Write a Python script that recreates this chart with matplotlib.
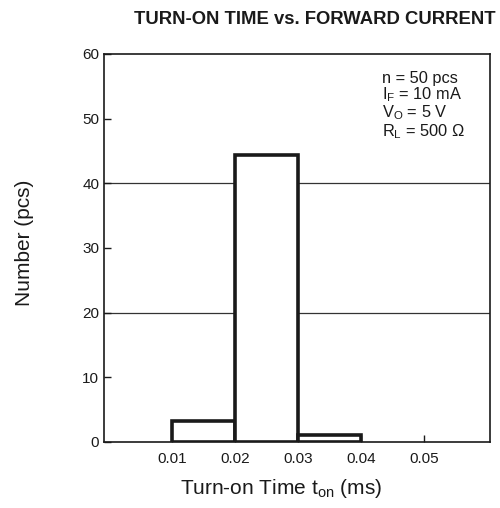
import matplotlib
matplotlib.use("Agg")
import matplotlib.pyplot as plt

plt.rcParams['font.family'] = ['Liberation Sans', 'DejaVu Sans']
plt.rcParams['mathtext.fontset'] = 'custom'
plt.rcParams['mathtext.rm'] = 'Liberation Sans'

# histogram data
bin_left = [0.01, 0.02, 0.03]
counts = [3.2, 44.3, 1.1]
bin_width = 0.01
grid_levels = [20, 40]
xticks = [0.01, 0.02, 0.03, 0.04, 0.05]
xtick_labels = ["0.01", "0.02", "0.03", "0.04", "0.05"]
yticks = [0, 10, 20, 30, 40, 50, 60]
notes = ["n = 50 pcs",
         r"I$\mathregular{_F}$ = 10 mA",
         r"V$\mathregular{_O}$ = 5 V",
         r"R$\mathregular{_L}$ = 500 Ω"]

fig = plt.figure(figsize=(5.0, 5.08), dpi=100)
ax = fig.add_axes([0.208, 0.130, 0.772, 0.764])

for g in grid_levels:
    ax.axhline(g, color='#333333', lw=0.9, zorder=1)

ax.bar(bin_left, counts, width=bin_width, align='edge', color='white',
       edgecolor='#1a1a1a', linewidth=2.6, zorder=3)

ax.set_xlim(-0.0008, 0.0605)
ax.set_ylim(0, 60)
ax.set_xticks(xticks)
ax.set_xticklabels(xtick_labels)
ax.set_yticks(yticks)
ax.tick_params(direction='in', length=5, width=1, labelsize=11, colors='#1a1a1a')
ax.tick_params(axis='x', pad=7)
for s in ax.spines.values():
    s.set_linewidth(1.2)
    s.set_color('#1a1a1a')

ax.set_xlabel(r"Turn-on Time t$\mathregular{_{on}}$ (ms)", fontsize=15, labelpad=8,
              color='#1a1a1a', x=0.459)
ax.set_ylabel("Number (pcs)", fontsize=15, labelpad=35, color='#1a1a1a', y=0.513)

ax.text(0.72, 0.957, "\n".join(notes), transform=ax.transAxes, ha='left', va='top',
        fontsize=11.8, linespacing=0.98, color='#1a1a1a')

fig.text(0.63, 1 - 19.5 / 508, "TURN-ON TIME vs. FORWARD CURRENT", ha='center', va='center',
         fontsize=13.3, fontweight='bold', color='#1a1a1a')

fig.savefig("out.png", dpi=100)
